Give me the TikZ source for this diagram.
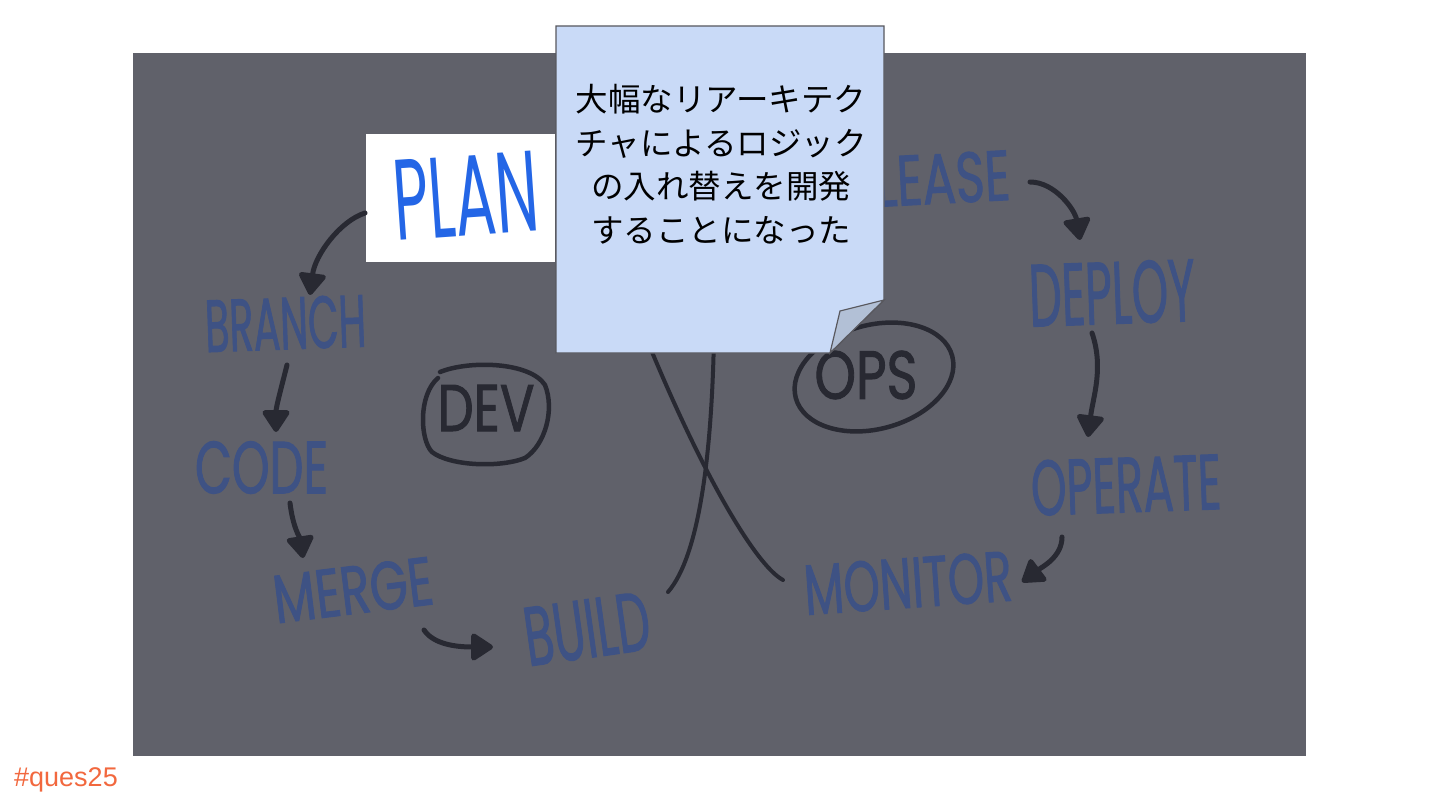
\documentclass[tikz,border=0pt]{standalone}
\usepackage{fontspec}
\newfontfamily\hand{Poppins}
\newfontfamily\handm{Poppins}[FakeBold=1.6]
\newfontfamily\jp{Noto Sans CJK JP}
\newfontfamily\arialf{Liberation Sans}
\usetikzlibrary{arrows.meta,calc}
\definecolor{bgray}{RGB}{96,97,106}
\definecolor{lblue}{RGB}{62,82,132}
\definecolor{ink}{RGB}{40,41,50}
\definecolor{planblue}{RGB}{36,102,230}
\definecolor{notefill}{RGB}{201,218,247}
\definecolor{noteline}{RGB}{88,88,94}
\definecolor{foldfill}{RGB}{178,192,214}
\definecolor{tagorange}{RGB}{242,104,62}
\newcommand\hw[3]{\resizebox{#1pt}{#2pt}{\handm #3}}
\newcommand\hwl[3]{\resizebox{#1pt}{#2pt}{\hand #3}}
\begin{document}
\begin{tikzpicture}[x=1pt,y=-1pt,
  lbl/.style={text=lblue, inner sep=0pt, anchor=center},
  circ/.style={text=ink, inner sep=0pt, anchor=center},
  arr/.style={draw=ink, line width=5pt, line cap=round, -{Triangle[length=24pt,width=30pt,round]}},
  xline/.style={draw=ink, line width=4pt, line cap=round},
  ring/.style={draw=ink, line width=4.5pt, line cap=round}]
\useasboundingbox (0,0) rectangle (1440,810);
\fill[white] (0,0) rectangle (1440,810);
\fill[bgray] (133,53) rectangle (1306,756);

% labels
\node[lbl, rotate=3] (release) at (915,180) {\hw{190}{50}{RELEASE}};
\node[lbl, rotate=2] (branch) at (285.5,323.5) {\hw{161}{52}{BRANCH}};
\node[lbl] (code) at (261.5,467.5) {\hw{133}{52}{CODE}};
\node[lbl, rotate=7] (merge) at (353,590) {\hw{160}{48}{MERGE}};
\node[lbl, rotate=8] (build) at (587,629) {\hw{126}{58}{BUILD}};
\node[lbl, rotate=4] (monitor) at (908,583) {\hw{208}{50}{MONITOR}};
\node[lbl, rotate=2] (operate) at (1126,485) {\hw{190}{55}{OPERATE}};
\node[lbl, rotate=2] (deploy) at (1112,293) {\hw{166}{62}{DEPLOY}};

% PLAN box
\node[fill=white, minimum width=189pt, minimum height=128pt, inner sep=0pt] (plan) at (460.5,198) {};
\node[text=planblue, inner sep=0pt, rotate=4] (plantxt) at (466,196) {\hwl{145}{80}{PLAN}};

% DEV and OPS
\node[circ] (dev) at (486,408) {\hw{97}{46}{DEV}};
\draw[ring] (440,372) .. controls (470,360) and (530,362) .. (545,385)
  .. controls (555,410) and (545,445) .. (525,458)
  .. controls (500,468) and (450,466) .. (432,452)
  .. controls (420,440) and (418,395) .. (438,378);
\node[circ] (ops) at (866,375) {\hw{103}{48}{OPS}};
\draw[ring, rotate around={15:(874,377)}] (874,377) ellipse [x radius=81, y radius=52];

% arrows
\draw[arr] ($(plan)+(-95.5,15)$) .. controls +(-25,8) and +(5,-40) .. ($(branch)+(24.5,-28.5)$);
\draw[arr] ($(branch)+(1.5,41.5)$) .. controls +(-5,20) and +(0,-25) .. ($(code)+(14.5,-35.5)$);
\draw[arr] ($(code)+(28.5,35.5)$) .. controls +(3,25) and +(-3,-20) .. ($(merge)+(-50,-32)$);
\draw[arr] ($(merge)+(71,40)$) .. controls +(10,15) and +(-35,0) .. ($(build)+(-94,18)$);
\draw[arr] ($(release)+(115,2)$) .. controls +(25,0) and +(-5,-30) .. ($(deploy)+(-32,-53)$);
\draw[arr] ($(deploy)+(-20,40)$) .. controls +(12,35) and +(5,-40) .. ($(operate)+(-38,-48)$);
\draw[arr] ($(operate)+(-64,52)$) .. controls +(0,20) and +(20,-15) .. ($(monitor)+(114,-1)$);

% crossing lines running under the note
\coordinate (topa) at (645,335);
\coordinate (topb) at (714,335);
\draw[xline] ($(monitor)+(-125,-3)$) .. controls +(-28,-15) and +(55,135) .. (topa);
\draw[xline] ($(build)+(81,-37)$) .. controls +(32,-37) and +(-2,115) .. (topb);

% note
\draw[fill=notefill, draw=noteline, line width=1.2pt, line join=miter]
  (556,26) -- (884,26) -- (884,300) -- (830,353) -- (556,353) -- cycle;
\draw[fill=foldfill, draw=noteline, line width=1.2pt] (884,300) -- (840,311) -- (830,353) -- cycle;
\node[font=\jp\fontsize{32.5}{43.5}\selectfont, align=center, inner sep=0pt, text=black] (notetxt) at (721,164)
  {大幅なリアーキテク\\チャによるロジック\\の入れ替えを開発\\することになった};

% tag
\node[font=\arialf\fontsize{27}{30}\selectfont, text=tagorange, anchor=base west, inner sep=0pt] (tag) at (14,786) {\#ques25};
\end{tikzpicture}
\end{document}
